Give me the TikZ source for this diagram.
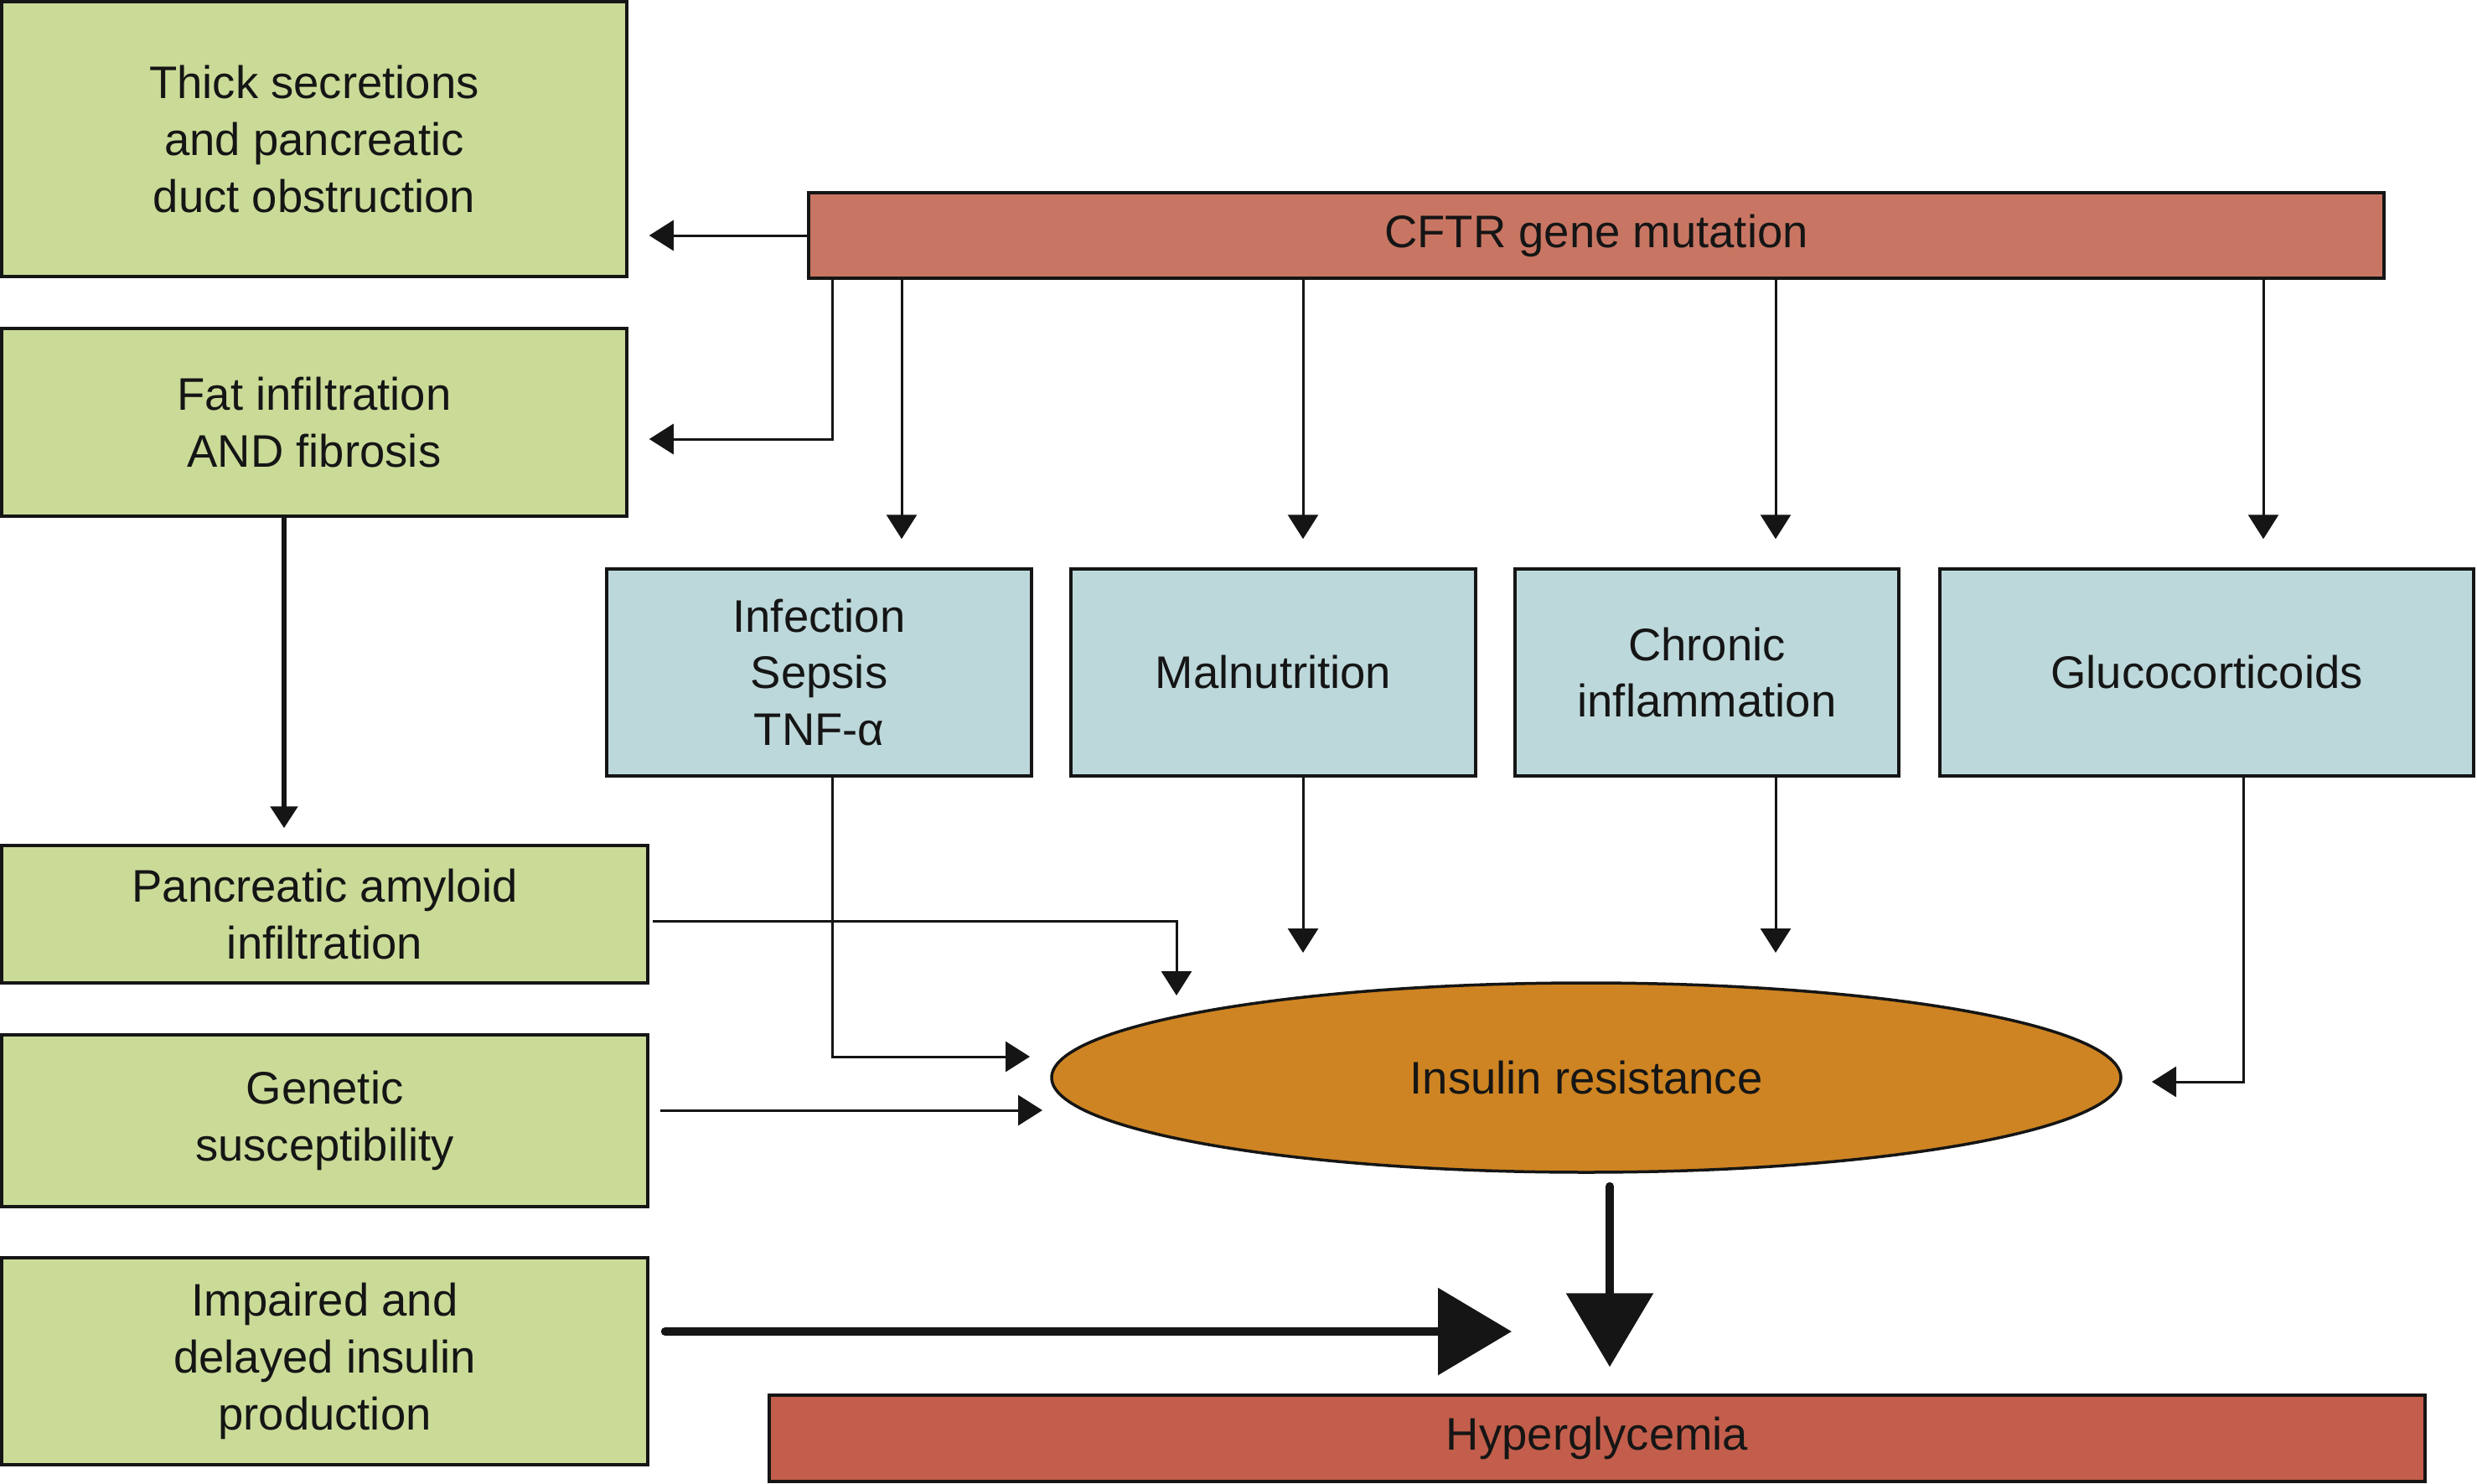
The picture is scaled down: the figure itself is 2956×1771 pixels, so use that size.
\documentclass[tikz,border=0pt]{standalone}
\usepackage{fontspec}
\setmainfont{Liberation Sans}
\usetikzlibrary{arrows.meta,shapes.geometric,calc}
\definecolor{boxgreen}{HTML}{CADB98}
\definecolor{boxblue}{HTML}{BDD8DB}
\definecolor{cftrred}{HTML}{C87663}
\definecolor{hypred}{HTML}{C25E4B}
\definecolor{irorange}{HTML}{CE8422}
\definecolor{ink}{HTML}{151515}
\begin{document}
\begin{tikzpicture}[x=0.1mm,y=-0.1mm,
  base/.style={draw=ink, line width=0.35mm, align=center, inner sep=0pt,
    text=ink, font=\fontsize{15.5}{19.3}\selectfont},
  gbox/.style={base, fill=boxgreen, rectangle},
  bbox/.style={base, fill=boxblue, rectangle},
  thinarr/.style={draw=ink, line width=0.3mm, -{Triangle[length=2.9mm,width=3.6mm]}},
  medarr/.style={draw=ink, line width=0.55mm, -{Triangle[length=2.6mm,width=3.2mm]}},
  bigarr/.style={draw=ink, line width=1mm, line cap=round, -{Triangle[length=8.8mm,width=10.2mm]}}
]
\useasboundingbox (0,0) rectangle (2956,1771);

% left green boxes
\node[gbox, minimum width=74.6mm, minimum height=32.8mm] (thick) at (375,166)
  {Thick secretions\\and pancreatic\\duct obstruction};
\node[gbox, minimum width=74.6mm, minimum height=22.4mm] (fat) at (375,504)
  {Fat infiltration\\AND fibrosis};
\node[gbox, minimum width=77.1mm, minimum height=16.4mm] (amyloid) at (387.5,1091)
  {Pancreatic amyloid\\infiltration};
\node[gbox, minimum width=77.1mm, minimum height=20.5mm] (genetic) at (387.5,1337.5)
  {Genetic\\susceptibility};
\node[gbox, minimum width=77.1mm, minimum height=24.7mm] (impaired) at (387.5,1624.5)
  {Impaired and\\delayed insulin\\production};

% top bar
\node[base, fill=cftrred, rectangle, minimum width=188mm, minimum height=10.2mm] (cftr) at (1905,281)
  {CFTR gene mutation};

% blue boxes
\node[bbox, minimum width=50.7mm, minimum height=24.7mm] (infection) at (977.5,802.5)
  {Infection\\Sepsis\\TNF-α};
\node[bbox, minimum width=48.3mm, minimum height=24.7mm] (malnutrition) at (1519.5,802.5)
  {Malnutrition};
\node[bbox, minimum width=45.8mm, minimum height=24.7mm] (chronic) at (2037,802.5)
  {Chronic\\inflammation};
\node[bbox, minimum width=63.7mm, minimum height=24.7mm] (gluco) at (2633.5,802.5)
  {Glucocorticoids};

% ellipse
\node[base, fill=irorange, ellipse, minimum width=127.6mm, minimum height=22.6mm] (ir) at (1893,1286)
  {Insulin resistance};

% bottom bar
\node[base, fill=hypred, rectangle, minimum width=197.6mm, minimum height=10.3mm] (hyper) at (1906,1716.5)
  {Hyperglycemia};

% coordinates
\coordinate (k1) at (993,524);
\coordinate (d1) at (1076,0);
\coordinate (d2) at (1555,0);
\coordinate (d3) at (2119,0);
\coordinate (d4) at (2701,0);
\coordinate (f1) at (339,0);
\coordinate (a1) at (1404,1099);
\coordinate (i1) at (993,0);
\coordinate (g1) at (2677,0);
\coordinate (v1) at (1921,0);
\coordinate (h1) at (1804,1589);
% arrow tips at the ellipse
\coordinate (tA) at (1404,1188);
\coordinate (tI) at (1229,1261);
\coordinate (tG) at (1244,1325);
\coordinate (tM) at (1555,1137);
\coordinate (tC) at (2119,1137);
\coordinate (tL) at (2568,1291);

% CFTR to left boxes
\draw[thinarr, shorten >=2.5mm] (cftr.west) -- (thick.east |- cftr.west);
\draw[thinarr, shorten >=2.5mm] (cftr.south -| k1) |- (fat.east |- k1);

% CFTR down arrows
\draw[thinarr, shorten >=3.4mm] (cftr.south -| d1) -- (infection.north -| d1);
\draw[thinarr, shorten >=3.4mm] (cftr.south -| d2) -- (malnutrition.north -| d2);
\draw[thinarr, shorten >=3.4mm] (cftr.south -| d3) -- (chronic.north -| d3);
\draw[thinarr, shorten >=3.4mm] (cftr.south -| d4) -- (gluco.north -| d4);

% fat to amyloid
\draw[medarr, shorten >=1.9mm] (fat.south -| f1) -- (amyloid.north -| f1);

% into insulin resistance
\draw[thinarr, shorten <=0.4mm] (amyloid.east |- a1) -| (tA);
\draw[thinarr] (infection.south -| i1) |- (tI);
\draw[thinarr, shorten <=1.3mm] (genetic.east |- tG) -- (tG);
\draw[thinarr] (malnutrition.south -| tM) -- (tM);
\draw[thinarr] (chronic.south -| tC) -- (tC);
\draw[thinarr] (gluco.south -| g1) |- (tL);

% big arrows
\draw[bigarr, shorten <=1.5mm, shorten >=3.2mm] (ir.south -| v1) -- (hyper.north -| v1);
\draw[bigarr, shorten <=1.9mm] (impaired.east |- h1) -- (h1);
\end{tikzpicture}
\end{document}
